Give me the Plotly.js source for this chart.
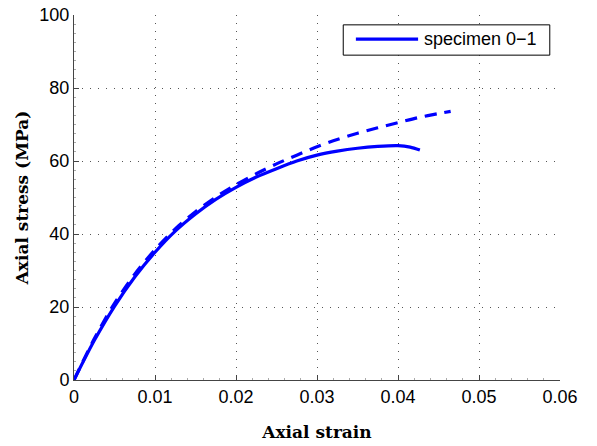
<!DOCTYPE html>
<html>
<head>
<meta charset="utf-8">
<script src="https://cdn.plot.ly/plotly-3.0.1.min.js"></script>
<style>html,body{margin:0;padding:0;background:#fff;}#chart{width:597px;height:446px;}</style>
</head>
<body>
<div id="chart"></div>
<script>
// Experimental curve (solid)
const strainTest = [0, 0.0025, 0.005, 0.0075, 0.01, 0.0125, 0.015, 0.0175, 0.02, 0.0225, 0.025, 0.0275, 0.03, 0.0325, 0.035, 0.0375, 0.04, 0.0415, 0.0427];
const stressTest = [0, 10.8, 20.2, 28.2, 35.0, 40.8, 45.5, 49.5, 52.8, 55.6, 57.9, 60.0, 61.6, 62.7, 63.5, 64.0, 64.2, 63.8, 63.0];
// Model curve (dashed)
const strainModel = [0, 0.0025, 0.005, 0.0075, 0.01, 0.0125, 0.015, 0.0175, 0.02, 0.0225, 0.025, 0.0275, 0.03, 0.0325, 0.035, 0.0375, 0.04, 0.0425, 0.045, 0.0465];
const stressModel = [0, 11.3, 21.0, 29.0, 35.7, 41.4, 46.1, 50.1, 53.5, 56.5, 59.2, 61.6, 63.9, 65.9, 67.6, 69.1, 70.5, 71.9, 73.0, 73.6];
const seriesName = "specimen 0\u22121";
const xTicks = [0, 0.01, 0.02, 0.03, 0.04, 0.05, 0.06];
const xTickText = ["0", "0.01", "0.02", "0.03", "0.04", "0.05", "0.06"];
const yTicks = [0, 20, 40, 60, 80, 100];

const traces = [
  {x: strainTest, y: stressTest, type: 'scatter', mode: 'lines', name: seriesName,
   line: {color: '#0000ff', width: 3.2, shape: 'spline', smoothing: 0.8}, showlegend: false},
  {x: strainModel, y: stressModel, type: 'scatter', mode: 'lines', name: 'model',
   line: {color: '#0000ff', width: 3.2, dash: '12px,8px', shape: 'spline', smoothing: 0.8}, showlegend: false}
];

const axisCommon = {
  showline: true, linecolor: '#444', linewidth: 1,
  ticks: 'inside', ticklen: 5, tickcolor: '#444',
  showgrid: true, gridcolor: '#555', griddash: '1px,7px', gridwidth: 1,
  zeroline: false, mirror: false,
  tickfont: {family: 'Liberation Sans, Arial, sans-serif', size: 18, color: '#000'}
};

// Legend box drawn in the plot's paper coordinates
const legendBox = {x0: 0.554, x1: 0.979, y0: 0.890, y1: 0.973};
const legendLine = {x0: 0.580, x1: 0.708, y: 0.934};

const layout = {
  width: 597, height: 446,
  margin: {l: 74, r: 37, t: 15, b: 66},
  paper_bgcolor: '#fff', plot_bgcolor: '#fff',
  xaxis: Object.assign({}, axisCommon, {
    range: [0, 0.06], tickvals: xTicks, ticktext: xTickText,
    minor: {dtick: 0.002, ticks: 'inside', ticklen: 2, tickcolor: '#aaa', showgrid: false},
    title: {text: '<b>Axial strain</b>', font: {family: 'DejaVu Serif, Liberation Serif, serif', size: 17, color: '#000'}, standoff: 20}
  }),
  yaxis: Object.assign({}, axisCommon, {
    range: [0, 100], tickvals: yTicks,
    minor: {dtick: 2.5, ticks: 'inside', ticklen: 2, tickcolor: '#aaa', showgrid: false},
    title: {text: '<b>Axial stress (MPa)</b>', font: {family: 'DejaVu Serif, Liberation Serif, serif', size: 17, color: '#000'}, standoff: 6}
  }),
  shapes: [
    {type: 'rect', xref: 'paper', yref: 'paper', x0: legendBox.x0, x1: legendBox.x1, y0: legendBox.y0, y1: legendBox.y1,
     line: {color: '#000', width: 1}, fillcolor: '#fff', layer: 'above'},
    {type: 'line', xref: 'paper', yref: 'paper', x0: legendLine.x0, x1: legendLine.x1, y0: legendLine.y, y1: legendLine.y,
     line: {color: '#0000ff', width: 3.2}, layer: 'above'}
  ],
  annotations: [
    {xref: 'paper', yref: 'paper', x: 0.717, y: legendLine.y, xanchor: 'left', yanchor: 'middle',
     text: seriesName, showarrow: false,
     font: {family: 'Liberation Sans, Arial, sans-serif', size: 18, color: '#000'}}
  ],
  showlegend: false
};

Plotly.newPlot('chart', traces, layout, {displayModeBar: false, staticPlot: true});
</script>
</body>
</html>
